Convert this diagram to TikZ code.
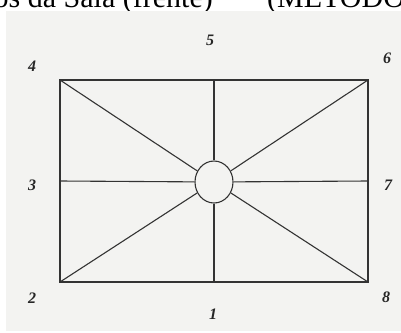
\documentclass[tikz,border=0pt]{standalone}
\usepackage{fontspec}
\setmainfont{Liberation Serif}
\usetikzlibrary{positioning,shapes.geometric}
\definecolor{panel}{HTML}{F3F3F1}
\definecolor{ink}{HTML}{333333}
\tikzset{
  wall/.style   ={draw=ink, line width=1.1pt},
  hub/.style    ={ellipse, draw=ink, line width=1.1pt, minimum width=38pt,
                  minimum height=42pt, inner sep=0pt},
  spot/.style   ={font=\fontsize{16}{16}\selectfont\bfseries\itshape, text=black!85},
  heading/.style={font=\fontsize{30}{30}\selectfont, inner sep=0pt},
}
\begin{document}
\begin{tikzpicture}[x=1pt,y=-1pt]
      \useasboundingbox (0,0) rectangle (401,332);
      \begin{scope}
        \clip (0,0) rectangle (401,332);
        \node[heading, anchor=base east] (title) at (213,7.5) {dos da Sala (frente)};
        \node[heading, anchor=base west] (method) at (267,7.5) {(METODO};
      \end{scope}
      \fill[panel] (6,11) rectangle (401,331);
      % room outline
      \coordinate (tl) at (60,80);  \coordinate (tr) at (368,80);
      \coordinate (bl) at (60,282); \coordinate (br) at (368,282);
      \coordinate (tm) at (214,80); \coordinate (bm) at (214,282);
      \coordinate (lm) at (60,181); \coordinate (rm) at (368,181);
      \draw[wall] (tl) rectangle (br);
      \node[hub] (c) at (214,182) {};
      % spokes
      \foreach \p in {tl,tr,bl,br,tm,bm,lm,rm}{
          \draw[wall] (\p) -- (c);}
      % numbered positions
      \foreach \n/\p in {1/{(213,314)},2/{(32,298)},3/{(32,185)},4/{(32,66)},
                         5/{(210,40)},6/{(387,58)},7/{(388,185)},8/{(386,297)}}{
          \node[spot] (s\n) at \p {\n};}
    \end{tikzpicture}
\end{document}
